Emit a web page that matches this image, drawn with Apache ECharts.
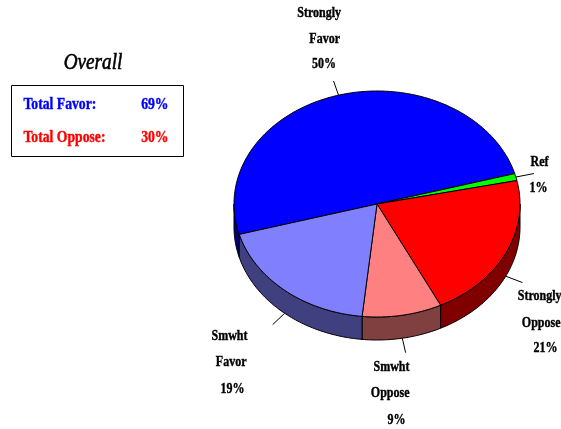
<!DOCTYPE html>
<html><head><meta charset="utf-8">
<style>html,body{margin:0;padding:0;background:#fff}#c{width:561px;height:429px}</style>
<script src="https://cdn.jsdelivr.net/npm/echarts@6/dist/echarts.min.js"></script>
</head><body><div id="c"></div>
<script>
// data
var categories = ['Strongly Favor', 'Ref', 'Strongly Oppose', 'Smwht Oppose', 'Smwht Favor'];
var values = [50, 1, 21, 9, 19];
var topColors = ['#0000ff', '#00ff00', '#ff0000', '#ff8080', '#8080ff'];
var wallColors = ['#000080', '#008000', '#800000', '#804040', '#404080'];
var labelLines = [['Strongly', 'Favor', '50%'], ['Ref', '1%'], ['Strongly', 'Oppose', '21%'], ['Smwht', 'Oppose', '9%'], ['Smwht', 'Favor', '19%']];
var summaryLabels = ['Total Favor:', 'Total Oppose:'];
var summaryValues = ['69%', '30%'];
var summaryColors = ['#0000ff', '#ff0000'];
var chartTitle = 'Overall';

// layout
var cx = 377, cy = 204, rx = 143, ry = 113, depth = 23, startDeg = 195.6;
var labelRight = [[341, 340, 336], [548.5, 547.5], [561.5, 560.5, 557.5], [409.5, 409.5, 405.5], [247.5, 246.5, 244.5]];
var labelY = [[13, 39, 64], [162, 188], [296, 323, 348], [367, 393, 420], [336, 362, 389]];
var labelFont = 'bold 15px "Liberation Serif"';
var squeeze = 0.8;
var total = values.reduce(function (a, b) { return a + b; }, 0);

function pt(deg, dy, k) {
  var a = deg * Math.PI / 180; k = k || 1;
  return [cx + rx * k * Math.cos(a), cy - ry * k * Math.sin(a) + (dy || 0)];
}
function arc(a0, a1, dy) {
  var n = Math.max(2, Math.ceil(Math.abs(a1 - a0))), out = [];
  for (var i = 0; i <= n; i++) out.push(pt(a0 + (a1 - a0) * i / n, dy));
  return out;
}
function renderSlice(params, api) {
  var i = params.dataIndex, before = 0;
  for (var j = 0; j < i; j++) before += values[j];
  var a0 = startDeg - before / total * 360;
  var a1 = a0 - api.value(0) / total * 360;
  var kids = [];
  // front wall: the part of the slice lying in the lower half of the ellipse
  [[0, -180], [360, 180]].forEach(function (w) {
    var from = Math.min(a0, w[0]), to = Math.max(a1, w[1]);
    if (from > to) {
      var top = arc(from, to, 0), bottom = arc(to, from, depth);
      kids.push({ type: 'polygon', shape: { points: top.concat(bottom) },
        style: { fill: wallColors[i], stroke: '#000', lineWidth: 1 } });
    }
  });
  // top face
  kids.push({ type: 'polygon', shape: { points: [[cx, cy]].concat(arc(a0, a1, 0)) },
    style: { fill: topColors[i], stroke: '#000', lineWidth: 1, lineJoin: 'round' }, z2: 5 });
  // leader
  var mid = (a0 + a1) / 2;
  var norm = ((mid % 360) + 360) % 360;
  var wall = norm > 180 ? depth : 0;
  var p0 = pt(mid, wall), p1 = pt(mid, wall, 1.13);
  kids.push({ type: 'line', shape: { x1: p0[0], y1: p0[1], x2: p1[0], y2: p1[1] },
    style: { stroke: '#000', lineWidth: 1 }, z2: 6 });
  // labels
  labelLines[i].forEach(function (t, k) {
    kids.push({ type: 'text', x: labelRight[i][k], y: labelY[i][k], scaleX: squeeze, z2: 7,
      style: { text: t, font: labelFont, fill: '#000', stroke: '#000', lineWidth: 0.4, align: 'right', verticalAlign: 'middle' } });
  });
  return { type: 'group', children: kids };
}

var graphics = [
  { type: 'rect', shape: { x: 11.5, y: 85.5, width: 172, height: 71 },
    style: { fill: '#fff', stroke: '#000', lineWidth: 1 } },
  { type: 'text', x: 93, y: 63, scaleX: 0.8,
    style: { text: chartTitle, font: 'italic 24px "Liberation Serif"', fill: '#000', stroke: '#000', lineWidth: 0.6, align: 'center', verticalAlign: 'middle' } }
];
summaryLabels.forEach(function (t, i) {
  var y = 105 + i * 33;
  graphics.push({ type: 'text', x: 23.5, y: y, scaleX: 0.855,
    style: { text: t, font: 'bold 16px "Liberation Serif"', fill: summaryColors[i], stroke: summaryColors[i], lineWidth: 0.4, align: 'left', verticalAlign: 'middle' } });
  graphics.push({ type: 'text', x: 168.5, y: y, scaleX: 0.855,
    style: { text: summaryValues[i], font: 'bold 16px "Liberation Serif"', fill: summaryColors[i], stroke: summaryColors[i], lineWidth: 0.4, align: 'right', verticalAlign: 'middle' } });
});

var chart = echarts.init(document.getElementById('c'), null, { renderer: 'canvas' });
chart.setOption({
  animation: false,
  backgroundColor: '#fff',
  graphic: graphics,
  series: [{
    type: 'custom',
    coordinateSystem: 'none',
    renderItem: renderSlice,
    data: values.map(function (v, i) { return { name: categories[i], value: [v] }; })
  }]
});
</script></body></html>
